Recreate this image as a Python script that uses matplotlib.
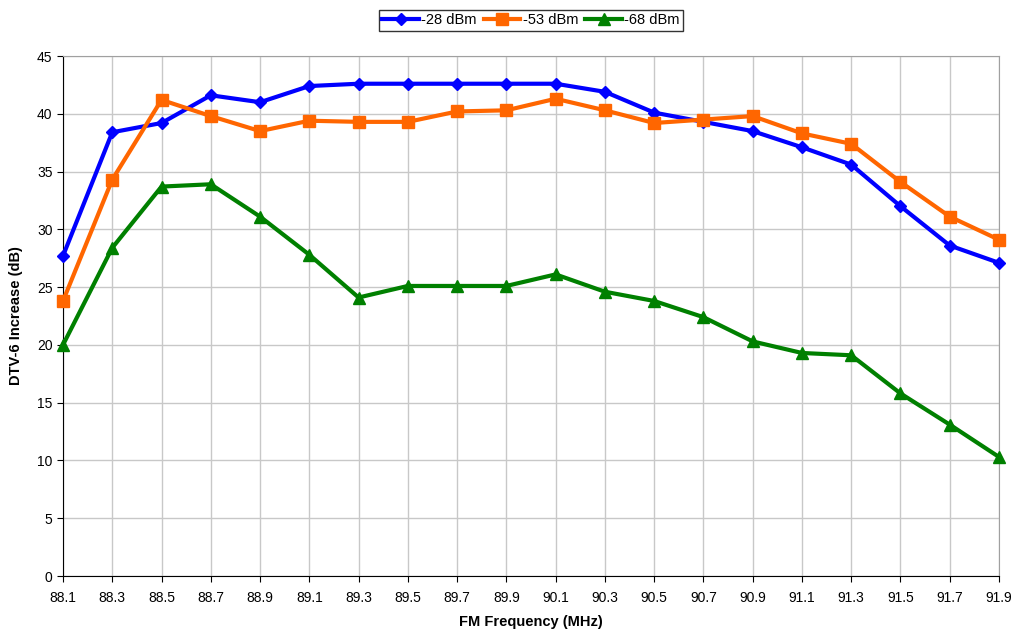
#!/usr/bin/env python
# DTV-6 increase vs FM frequency for three signal levels

import numpy as np
import matplotlib
matplotlib.use('Agg')
import matplotlib.pyplot as plt

plt.rcParams['font.family'] = ['Liberation Sans', 'DejaVu Sans']

freq = [88.1, 88.3, 88.5, 88.7, 88.9, 89.1, 89.3, 89.5, 89.7, 89.9,
        90.1, 90.3, 90.5, 90.7, 90.9, 91.1, 91.3, 91.5, 91.7, 91.9]
freq_labels = ['%.1f' % f for f in freq]

dbm28 = [27.7, 38.4, 39.2, 41.6, 41.0, 42.4, 42.6, 42.6, 42.6, 42.6,
         42.6, 41.9, 40.1, 39.3, 38.5, 37.1, 35.6, 32.0, 28.6, 27.1]
dbm53 = [23.8, 34.3, 41.2, 39.8, 38.5, 39.4, 39.3, 39.3, 40.2, 40.3,
         41.3, 40.3, 39.2, 39.5, 39.8, 38.3, 37.4, 34.1, 31.1, 29.1]
dbm68 = [20.0, 28.4, 33.7, 33.9, 31.1, 27.8, 24.1, 25.1, 25.1, 25.1,
         26.1, 24.6, 23.8, 22.4, 20.3, 19.3, 19.1, 15.8, 13.1, 10.3]

fig = plt.figure(figsize=(10.13, 6.30), dpi=100)
ax = fig.add_axes([63/1013, 54/630, 936/1013, 520/630])

x = np.arange(len(freq))
ax.plot(x, dbm28, color='#0000ff', lw=3, marker='D', ms=6, label='-28 dBm', clip_on=False, zorder=3)
ax.plot(x, dbm53, color='#ff6600', lw=3, marker='s', ms=8, label='-53 dBm', clip_on=False, zorder=3)
ax.plot(x, dbm68, color='#008000', lw=3, marker='^', ms=8, label='-68 dBm', clip_on=False, zorder=3)

ax.set_xlim(0, len(freq) - 1)
ax.set_ylim(0, 45)
ax.set_xticks(x)
ax.set_xticklabels(freq_labels)
ax.set_yticks(np.arange(0, 46, 5))
ax.grid(True, color='#c8c8c8', lw=1)
ax.set_axisbelow(True)
for s in ['top', 'right']:
    ax.spines[s].set_color('#a0a0a0')
for s in ['left', 'bottom']:
    ax.spines[s].set_color('black')
ax.tick_params(labelsize=10, length=4, direction='out')
ax.tick_params(axis='x', pad=7)

ax.set_xlabel('FM Frequency (MHz)', fontsize=10.5, fontweight='bold', labelpad=7)
ax.set_ylabel('DTV-6 Increase (dB)', fontsize=10.5, fontweight='bold', labelpad=10)

leg = ax.legend(loc='lower center', bbox_to_anchor=(0.5, 1.048), ncol=3,
                frameon=True, fancybox=False, edgecolor='black', fontsize=10.5,
                handlelength=2.5, handletextpad=0.15, columnspacing=0.5,
                borderpad=0.25, borderaxespad=0)
leg.get_frame().set_linewidth(1)

plt.savefig('out.png', dpi=100, facecolor='white')
